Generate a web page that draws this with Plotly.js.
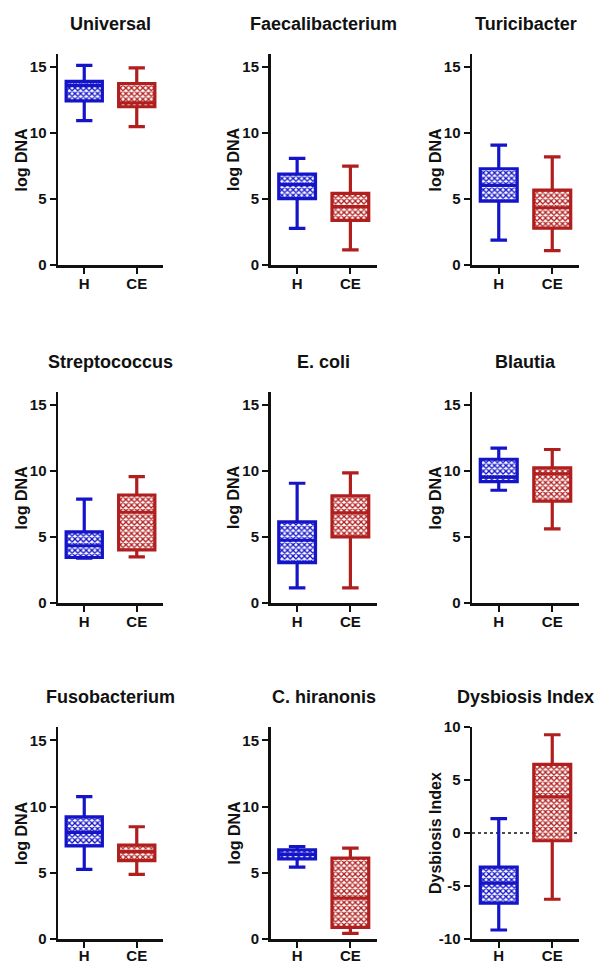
<!DOCTYPE html>
<html>
<head>
<meta charset="utf-8">
<script src="https://cdn.plot.ly/plotly-3.0.1.min.js"></script>
<style>html,body{margin:0;padding:0;background:#fff}#chart{width:606px;height:963px}</style>
</head>
<body>
<div id="chart"></div>
<script>
// ---- data ----
const panelTitles = ['Universal', 'Faecalibacterium', 'Turicibacter',
                     'Streptococcus', 'E. coli', 'Blautia',
                     'Fusobacterium', 'C. hiranonis', 'Dysbiosis Index'];
const yTitles = ['log DNA', 'log DNA', 'log DNA', 'log DNA', 'log DNA', 'log DNA',
                 'log DNA', 'log DNA', 'Dysbiosis Index'];
const groups = ['H', 'CE'];

// Healthy (H)
const hMin    = [10.95, 2.78, 1.89, 3.40, 1.14, 8.55, 5.26, 5.42, -9.15];
const hQ1     = [12.45, 5.03, 4.85, 3.45, 3.06, 9.21, 7.03, 6.05, -6.62];
const hMedian = [13.60, 6.10, 6.04, 4.34, 4.76, 9.55, 8.05, 6.38, -4.73];
const hQ3     = [13.93, 6.89, 7.30, 5.39, 6.15, 10.90, 9.21, 6.73, -3.22];
const hMax    = [15.13, 8.08, 9.09, 7.87, 9.08, 11.74, 10.75, 6.98, 1.36];

// Chronic enteropathy (CE)
const ceMin    = [10.49, 1.14, 1.09, 3.50, 1.14, 5.62, 4.88, 0.43, -6.25];
const ceQ1     = [12.00, 3.38, 2.80, 4.03, 5.01, 7.72, 5.92, 0.88, -0.73];
const ceMedian = [12.30, 4.42, 4.34, 6.88, 6.83, 9.80, 6.60, 3.08, 3.41];
const ceQ3     = [13.75, 5.43, 5.68, 8.19, 8.12, 10.25, 7.08, 6.10, 6.47];
const ceMax    = [14.95, 7.50, 8.20, 9.58, 9.87, 11.64, 8.47, 6.86, 9.27];

const yRanges = [[0,16],[0,16],[0,16],[0,16],[0,16],[0,16],[0,16],[0,16],[-10,10]];
const logTicks = [0, 5, 10, 15];
const logTickText = ['0', '5', '10', '15'];
const diTicks = [-10, -5, 0, 5, 10];
const diTickText = ['-10', '-5', '0', '5', '10'];
const refLineValue = 0; // dotted reference line in Dysbiosis Index panel

// ---- style ----
const W = 606, H = 963;
const BLUE = '#1414c8';
const RED = '#b01e1e';
const INK = '#111111';
const FONT = 'Liberation Sans, Arial, Helvetica, sans-serif';
const colPx = [[58, 163], [270.5, 377], [472, 579]];
const rowPx = [[54, 265], [392, 603], [727, 939]];
const BOXW = 0.69;

const traces = [];
const layout = {
  width: W, height: H,
  margin: {l: 0, r: 0, t: 0, b: 0},
  paper_bgcolor: '#ffffff', plot_bgcolor: '#ffffff',
  showlegend: false, barmode: 'overlay', boxmode: 'overlay',
  font: {family: FONT, color: INK},
  annotations: [], shapes: []
};

const sets = [
  {name: 'H', color: BLUE, min: hMin, q1: hQ1, med: hMedian, q3: hQ3, max: hMax},
  {name: 'CE', color: RED, min: ceMin, q1: ceQ1, med: ceMedian, q3: ceQ3, max: ceMax}
];

for (let i = 0; i < 9; i++) {
  const r = Math.floor(i / 3), c = i % 3;
  const n = i === 0 ? '' : String(i + 1);
  const xa = 'x' + n, ya = 'y' + n;
  const xd = [colPx[c][0] / W, colPx[c][1] / W];
  const yd = [1 - rowPx[r][1] / H, 1 - rowPx[r][0] / H];

  sets.forEach(s => {
    // hatched fill of the box (interquartile range)
    traces.push({
      type: 'bar', x: [s.name], base: [s.q1[i]], y: [s.q3[i] - s.q1[i]],
      width: BOXW, xaxis: xa, yaxis: ya, hoverinfo: 'skip',
      marker: {color: '#ffffff', line: {width: 0},
               pattern: {shape: 'x', fgcolor: s.color, bgcolor: '#ffffff', size: 4, solidity: 0.55}}
    });
    // box outline, median and whiskers
    traces.push({
      type: 'box', x: [s.name], q1: [s.q1[i]], median: [s.med[i]], q3: [s.q3[i]],
      lowerfence: [s.min[i]], upperfence: [s.max[i]],
      width: BOXW, whiskerwidth: 0.45, xaxis: xa, yaxis: ya,
      fillcolor: 'rgba(0,0,0,0)', line: {color: s.color, width: 3.2},
      boxpoints: false, hoverinfo: 'skip'
    });
  });

  layout['xaxis' + n] = {
    domain: xd, anchor: ya, type: 'category',
    categoryorder: 'array', categoryarray: groups, range: [-0.5, 1.5],
    showgrid: false, zeroline: false, showline: true, linecolor: INK, linewidth: 2.5,
    ticks: 'outside', ticklen: 6, tickwidth: 2, tickcolor: INK,
    ticklabelstandoff: r === 2 ? -5 : -3,
    tickfont: {family: FONT, size: 15, color: INK, weight: 'bold'}, fixedrange: true
  };
  layout['yaxis' + n] = {
    domain: yd, anchor: xa, range: yRanges[i],
    tickmode: 'array',
    tickvals: i === 8 ? diTicks : logTicks,
    ticktext: i === 8 ? diTickText : logTickText,
    showgrid: false, zeroline: false, showline: true, linecolor: INK, linewidth: 2.5,
    ticks: 'outside', ticklen: 6, tickwidth: 2, tickcolor: INK,
    tickfont: {family: FONT, size: 15, color: INK, weight: 'bold'}, fixedrange: true
  };

  // panel title
  layout.annotations.push({
    text: panelTitles[i], xref: 'paper', yref: 'paper',
    x: (xd[0] + xd[1]) / 2, y: 1 - (rowPx[r][0] - 30) / H,
    xanchor: 'center', yanchor: 'middle', showarrow: false,
    font: {family: FONT, size: 18, color: INK, weight: 'bold'}
  });
  // y-axis title
  layout.annotations.push({
    text: yTitles[i], xref: 'paper', yref: 'paper', textangle: -90,
    x: (colPx[c][0] - 37) / W, y: (yd[0] + yd[1]) / 2,
    xanchor: 'center', yanchor: 'middle', showarrow: false,
    font: {family: FONT, size: 16, color: INK, weight: 'bold'}
  });

  if (i === 8) {
    layout.shapes.push({
      type: 'line', xref: xa + ' domain', yref: ya, x0: 0, x1: 1,
      y0: refLineValue, y1: refLineValue, layer: 'below',
      line: {color: INK, width: 1.5, dash: 'dot'}
    });
  }
}

Plotly.newPlot('chart', traces, layout, {displayModeBar: false, staticPlot: true});
</script>
</body>
</html>
